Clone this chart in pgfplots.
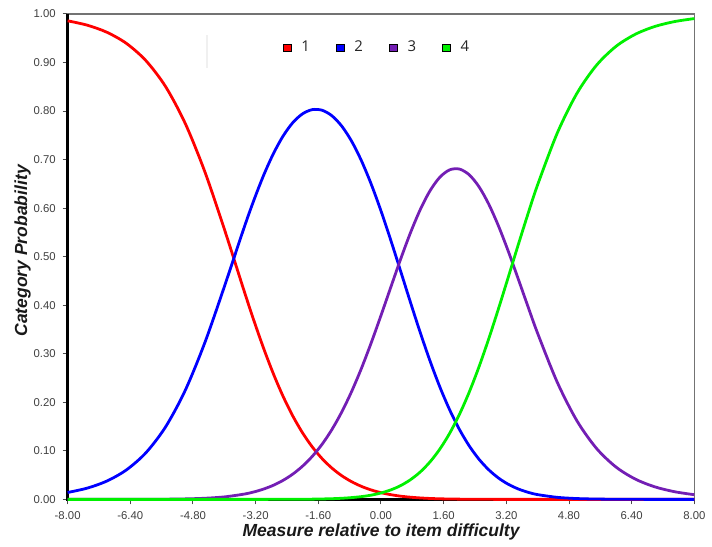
\documentclass[border=0pt]{standalone}
\usepackage{fontspec}
\setmainfont{Liberation Sans}
\newfontfamily\legendfont{Open Sans}
\usepackage{pgfplots}
\usepackage{pgfplotstable}
\pgfplotsset{compat=1.18}

\definecolor{cat1}{RGB}{255,0,0}
\definecolor{cat2}{RGB}{0,0,255}
\definecolor{cat3}{RGB}{115,30,180}
\definecolor{cat4}{RGB}{0,240,0}

% category probabilities
\pgfplotstableread{
x     p1     p2     p3     p4
-8.0  0.9858 0.0142 0.0000 0.0000
-7.5  0.9768 0.0232 0.0000 0.0000
-7.0  0.9623 0.0377 0.0000 0.0000
-6.5  0.9393 0.0607 0.0001 0.0000
-6.0  0.9036 0.0962 0.0002 0.0000
-5.5  0.8504 0.1493 0.0004 0.0000
-5.0  0.7748 0.2242 0.0010 0.0000
-4.5  0.6755 0.3223 0.0023 0.0000
-4.0  0.5569 0.4380 0.0051 0.0000
-3.5  0.4307 0.5586 0.0108 0.0000
-3.25 0.3695 0.6153 0.0152 0.0000
-3.0  0.3119 0.6669 0.0212 0.0000
-2.75 0.2592 0.7117 0.0290 0.0001
-2.5  0.2123 0.7484 0.0392 0.0001
-2.25 0.1715 0.7762 0.0522 0.0002
-2.0  0.1367 0.7944 0.0686 0.0003
-1.75 0.1076 0.8029 0.0890 0.0005
-1.5  0.0836 0.8015 0.1140 0.0009
-1.25 0.0642 0.7900 0.1443 0.0014
-1.0  0.0487 0.7687 0.1803 0.0023
-0.75 0.0364 0.7378 0.2222 0.0037
-0.5  0.0268 0.6977 0.2698 0.0057
-0.25 0.0194 0.6494 0.3225 0.0087
0.0   0.0138 0.5942 0.3789 0.0132
0.25  0.0097 0.5338 0.4370 0.0195
0.5   0.0066 0.4705 0.4946 0.0283
0.75  0.0045 0.4065 0.5487 0.0404
1.0   0.0030 0.3442 0.5965 0.0563
1.25  0.0019 0.2856 0.6355 0.0771
1.5   0.0012 0.2321 0.6634 0.1033
1.75  0.0008 0.1850 0.6787 0.1357
2.0   0.0005 0.1444 0.6805 0.1747
2.25  0.0003 0.1105 0.6688 0.2204
2.5   0.0002 0.0829 0.6443 0.2726
2.75  0.0001 0.0610 0.6084 0.3306
3.0   0.0000 0.0440 0.5631 0.3929
3.25  0.0000 0.0311 0.5111 0.4578
3.5   0.0000 0.0216 0.4550 0.5234
3.75  0.0000 0.0147 0.3978 0.5875
4.0   0.0000 0.0098 0.3419 0.6483
4.5   0.0000 0.0042 0.2413 0.7545
5.0   0.0000 0.0017 0.1622 0.8361
5.5   0.0000 0.0007 0.1052 0.8941
6.0   0.0000 0.0003 0.0666 0.9332
6.5   0.0000 0.0001 0.0415 0.9584
7.0   0.0000 0.0000 0.0256 0.9744
7.5   0.0000 0.0000 0.0157 0.9843
8.0   0.0000 0.0000 0.0096 0.9904
}\probs

\begin{document}
\begin{tikzpicture}
\begin{axis}[
    scale only axis,
    width=315pt,
    height=244pt,
    xmin=-8, xmax=8,
    ymin=0, ymax=1,
    clip=false,
    axis line style={draw=black!55, line width=0.6pt},
    xtick={-8,-6.4,-4.8,-3.2,-1.6,0,1.6,3.2,4.8,6.4,8},
    xticklabels={-8.00,-6.40,-4.80,-3.20,-1.60,0.00,1.60,3.20,4.80,6.40,8.00},
    ytick={0,0.1,0.2,0.3,0.4,0.5,0.6,0.7,0.8,0.9,1},
    yticklabels={0.00,0.10,0.20,0.30,0.40,0.50,0.60,0.70,0.80,0.90,1.00},
    tick align=outside,
    tick pos=left,
    major tick length=2.5pt,
    tick style={black!70, line width=0.5pt},
    ticklabel style={font=\fontsize{5.7}{6.5}\selectfont, text=black!75},
    xlabel={Measure relative to item difficulty},
    ylabel={Category Probability},
    label style={font=\fontsize{8.8}{10}\selectfont\bfseries\itshape, text=black!90},
    xlabel style={at={(axis description cs:0.5,-0.0676)}, anchor=center},
    ylabel style={at={(axis description cs:-0.072,0.512)}, anchor=center},
    legend columns=4,
    legend style={draw=none, fill=none, at={(0.495,0.93)}, anchor=center,
        font=\legendfont\fontsize{7.5}{9}\selectfont, text=black!85,
        /tikz/every odd column/.append style={column sep=3pt},
        /tikz/every even column/.append style={column sep=11pt}},
    legend image code/.code={\draw[#1, draw=black, line width=0.4pt] (0pt,-2pt) rectangle (4pt,2pt);},
]

% fixes the page size to the reference proportions
\path (rel axis cs:0,0) ++(-34pt,-23.5pt) -- ++(356pt,274.5pt);

% heavy left and bottom axis
\draw[black, line width=1.6pt] (rel axis cs:0,1) -- (rel axis cs:0,0) -- (rel axis cs:1,0);

% faint mark left of the legend
\draw[black!6, line width=1pt] (axis cs:-4.44,0.957) -- (axis cs:-4.44,0.889);

\addplot[cat1, line width=1.4pt, smooth, forget plot] table[x=x, y=p1] {\probs};
\addplot[cat2, line width=1.4pt, smooth, forget plot] table[x=x, y=p2] {\probs};
\addplot[cat3, line width=1.4pt, smooth, forget plot] table[x=x, y=p3] {\probs};
\addplot[cat4, line width=1.4pt, smooth, forget plot] table[x=x, y=p4] {\probs};

\addlegendimage{fill=cat1}\addlegendentry{1}
\addlegendimage{fill=cat2}\addlegendentry{2}
\addlegendimage{fill=cat3}\addlegendentry{3}
\addlegendimage{fill=cat4}\addlegendentry{4}

\end{axis}
\end{tikzpicture}
\end{document}
